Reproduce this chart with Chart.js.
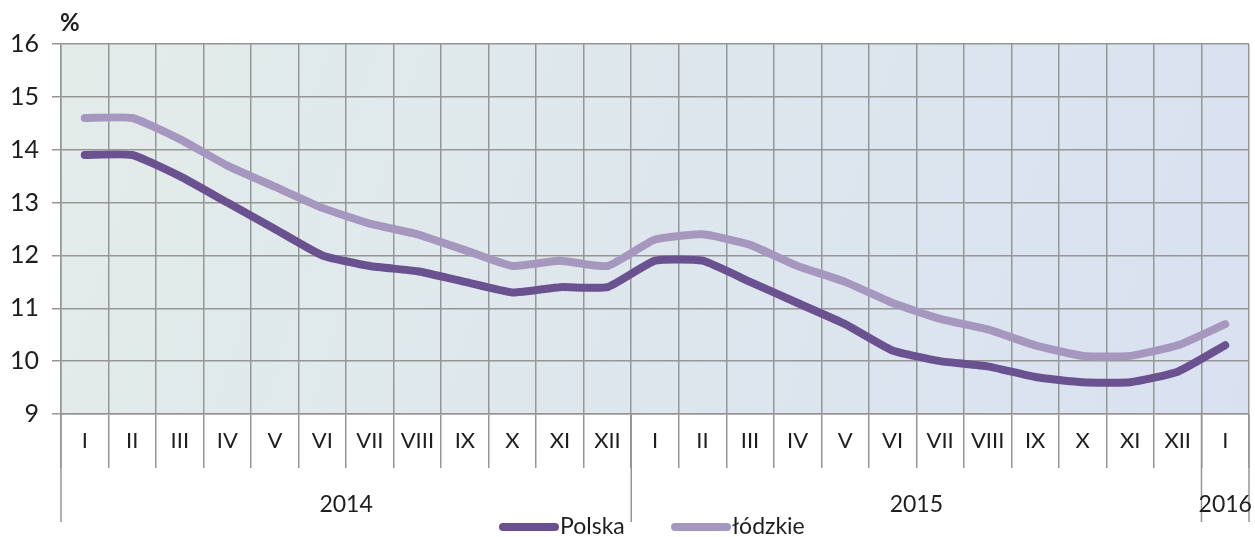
<!DOCTYPE html>
<html>
<head>
<meta charset="utf-8">
<script src="https://cdn.jsdelivr.net/npm/chart.js@4.4.1/dist/chart.umd.min.js"></script>
<style>
  html, body { margin: 0; padding: 0; background: #fff; }
  #wrap { width: 1255px; height: 537px; }
</style>
</head>
<body>
<div id="wrap"><canvas id="wykres" width="1255" height="537"></canvas></div>
<script>
// Dane — stopa bezrobocia (%), miesięcznie I 2014 – I 2016
const miesiace = ['I', 'II', 'III', 'IV', 'V', 'VI', 'VII', 'VIII', 'IX', 'X', 'XI', 'XII',
                  'I', 'II', 'III', 'IV', 'V', 'VI', 'VII', 'VIII', 'IX', 'X', 'XI', 'XII',
                  'I'];
const lata = ['2014', '2015', '2016'];
const miesiaceWRoku = [12, 12, 1];

const polska = [13.9, 13.9, 13.5, 13.0, 12.5, 12.0, 11.8, 11.7, 11.5, 11.3, 11.4, 11.4,
                11.9, 11.9, 11.5, 11.1, 10.7, 10.2, 10.0, 9.9, 9.7, 9.6, 9.6, 9.8,
                10.3];
const lodzkie = [14.6, 14.6, 14.2, 13.7, 13.3, 12.9, 12.6, 12.4, 12.1, 11.8, 11.9, 11.8,
                 12.3, 12.4, 12.2, 11.8, 11.5, 11.1, 10.8, 10.6, 10.3, 10.1, 10.1, 10.3,
                 10.7];

const Y_MIN = 9;
const Y_MAX = 16;

// Paleta
const C = {
    polska: '#6a5290',
    lodzkie: '#a697bf',
    grid: '#969696',
    text: '#1e1e1e',
    tloA: '#e3ece9',
    tloB: '#d9e1f1',
};
const FONT = "Lato, 'Open Sans', sans-serif";

// Tło obszaru wykresu (gradient)
const tloPlugin = {
    id: 'tlo',
    beforeDraw(chart) {
        const { ctx, chartArea: a } = chart;
        const g = ctx.createLinearGradient(a.left, a.top, a.right, a.bottom);
        g.addColorStop(0, C.tloA);
        g.addColorStop(1, C.tloB);
        ctx.save();
        ctx.fillStyle = g;
        ctx.fillRect(a.left, a.top, a.right - a.left, a.bottom - a.top);
        ctx.restore();
    }
};

// Lata pod osią, separatory, jednostka i legenda
const opisyPlugin = {
    id: 'opisy',
    afterDraw(chart) {
        const { ctx, chartArea: a } = chart;
        const x = chart.scales.x;
        const half = (x.getPixelForValue(1) - x.getPixelForValue(0)) / 2;

        ctx.save();
        ctx.strokeStyle = C.grid;
        ctx.lineWidth = 1.5;
        ctx.fillStyle = C.text;
        ctx.font = '23px ' + FONT;
        ctx.textAlign = 'center';
        ctx.textBaseline = 'middle';

        let start = 0;
        lata.forEach((rok, i) => {
            const n = miesiaceWRoku[i];
            const left = x.getPixelForValue(start) - half;
            const right = x.getPixelForValue(start + n - 1) + half;
            ctx.beginPath();
            ctx.moveTo(left, a.bottom);
            ctx.lineTo(left, a.bottom + 108);
            if (i === lata.length - 1) {
                ctx.moveTo(right, a.bottom);
                ctx.lineTo(right, a.bottom + 108);
            }
            ctx.stroke();
            ctx.fillText(rok, (left + right) / 2, a.bottom + 91);
            start += n;
        });

        // jednostka
        ctx.font = 'bold 24px ' + FONT;
        ctx.textAlign = 'left';
        ctx.fillText('%', 60, 23);

        // legenda
        ctx.font = '23px ' + FONT;
        ctx.lineCap = 'round';
        ctx.lineWidth = 8;
        chart.data.datasets.forEach((ds, i) => {
            const x0 = i === 0 ? 503 : 675;
            ctx.strokeStyle = ds.borderColor;
            ctx.beginPath();
            ctx.moveTo(x0, 527);
            ctx.lineTo(x0 + 52, 527);
            ctx.stroke();
            ctx.fillText(ds.label, x0 + 57, 527);
        });
        ctx.restore();
    }
};

new Chart(document.getElementById('wykres'), {
    type: 'line',
    data: {
        labels: miesiace,
        datasets: [
            {
                label: 'Polska',
                data: polska,
                borderColor: C.polska,
                backgroundColor: C.polska,
            },
            {
                label: 'łódzkie',
                data: lodzkie,
                borderColor: C.lodzkie,
                backgroundColor: C.lodzkie,
            }
        ]
    },
    options: {
        responsive: false,
        animation: false,
        layout: { padding: { top: 44, right: 6, bottom: 0, left: 0 } },
        elements: {
            line: {
                borderWidth: 8,
                tension: 0.15,
                borderCapStyle: 'round',
                borderJoinStyle: 'round',
            },
            point: { radius: 0, hoverRadius: 0 }
        },
        plugins: {
            legend: { display: false },
            tooltip: { enabled: false }
        },
        scales: {
            x: {
                offset: true,
                grid: {
                    offset: true,
                    color: C.grid,
                    lineWidth: 1.5,
                    tickLength: 54,
                },
                border: { color: C.grid, width: 1.5 },
                ticks: {
                    color: C.text,
                    font: { family: FONT, size: 22 },
                    padding: -40,
                    maxRotation: 0,
                    autoSkip: false,
                },
                afterFit(s) { s.height = 123; }
            },
            y: {
                min: Y_MIN,
                max: Y_MAX,
                grid: {
                    color: C.grid,
                    lineWidth: 1.5,
                    tickLength: 9,
                },
                border: { color: C.grid, width: 1.5 },
                ticks: {
                    stepSize: 1,
                    color: C.text,
                    font: { family: FONT, size: 25 },
                    padding: 13,
                },
                afterFit(s) { s.width = 61; }
            }
        }
    },
    plugins: [tloPlugin, opisyPlugin]
});
</script>
</body>
</html>
